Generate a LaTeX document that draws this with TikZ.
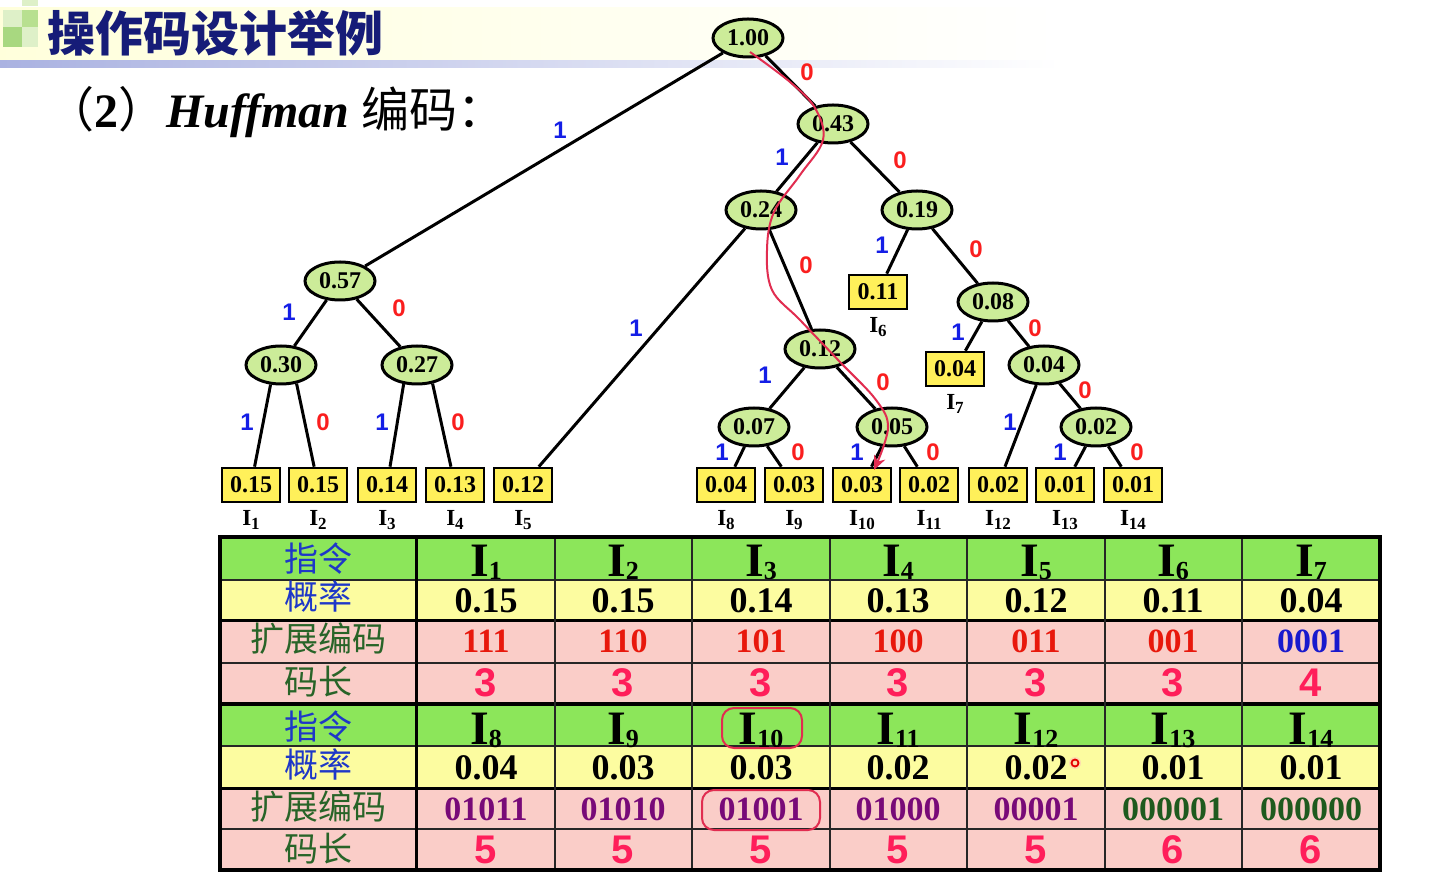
\documentclass[tikz,border=0pt]{standalone}
\usepackage{fontspec}
\setmainfont{Liberation Serif}
\newfontfamily\cjk{Noto Sans CJK SC}
\newfontfamily\sansf{Liberation Sans}
\usetikzlibrary{calc,arrows.meta,shapes.geometric}
\definecolor{nodegreen}{RGB}{204,236,153}
\definecolor{leafyellow}{RGB}{255,240,90}
\definecolor{bitblue}{RGB}{20,30,230}
\definecolor{bitred}{RGB}{250,30,30}
\definecolor{navy}{RGB}{22,28,120}
\definecolor{hdrgreen}{RGB}{140,230,90}
\definecolor{probyellow}{RGB}{252,252,160}
\definecolor{codepink}{RGB}{250,205,200}
\definecolor{lblblue}{RGB}{30,55,200}
\definecolor{lblgreen}{RGB}{40,100,40}
\definecolor{codered}{RGB}{232,24,12}
\definecolor{codeblue}{RGB}{25,25,205}
\definecolor{codepurple}{RGB}{120,10,120}
\definecolor{codegreen}{RGB}{30,90,30}
\definecolor{lenred}{RGB}{255,30,90}
\definecolor{hlred}{RGB}{225,45,80}
\definecolor{sqA}{RGB}{222,240,200}
\definecolor{sqB}{RGB}{184,224,144}
\definecolor{sqC}{RGB}{168,216,128}
\definecolor{lineblue}{RGB}{170,178,225}
\newcommand\tI[1]{I\raisebox{-2pt}{\fontsize{8.5}{8.5}\selectfont #1}}
\newcommand\hI[1]{I\raisebox{-1.5pt}{\fontsize{13}{13}\selectfont #1}}
\tikzset{
  x=0.5pt, y=-0.5pt,
  inode/.style={ellipse, draw, line width=1.5pt, fill=nodegreen, minimum width=35pt, minimum height=19pt, inner sep=0pt, font=\bfseries\fontsize{12}{12}\selectfont},
  leaf/.style={rectangle, draw, line width=1.3pt, fill=leafyellow, minimum width=29pt, minimum height=17pt, inner sep=0pt, font=\bfseries\fontsize{12}{12}\selectfont},
  tedge/.style={line width=1.5pt},
  one/.style={text=bitblue, inner sep=0pt, font=\sansf\bfseries\fontsize{12}{12}\selectfont},
  zero/.style={text=bitred, inner sep=0pt, font=\sansf\bfseries\fontsize{12}{12}\selectfont},
  ilab/.style={anchor=base, inner sep=0pt, font=\bfseries\fontsize{11.5}{11.5}\selectfont},
  thin/.style={line width=0.8pt, draw=black!85},
  thick/.style={line width=1.5pt, draw=black},
  hcell/.style={anchor=base, inner sep=0pt, font=\bfseries\fontsize{24}{24}\selectfont},
  pcell/.style={anchor=base, inner sep=0pt, font=\bfseries\fontsize{18}{18}\selectfont},
  ccell/.style={anchor=base, inner sep=0pt, font=\bfseries\fontsize{17}{17}\selectfont},
  lcell/.style={anchor=base, inner sep=0pt, text=lenred, font=\sansf\bfseries\fontsize{20}{20}\selectfont},
  rowlbl/.style={anchor=base, inner sep=0pt, font=\cjk\fontsize{17}{17}\selectfont},
  hl/.style={draw=hlred, line width=1pt, rounded corners=6pt},
}
\begin{document}
\begin{tikzpicture}
\useasboundingbox (0,0) rectangle (1450,886);
\fill[white] (0,0) rectangle (1450,886);
% title decoration
\shade[left color=yellow!14!white, right color=white] (0,8) rectangle (1060,62);
\shade[left color=lineblue, right color=white] (0,61) rectangle (1060,68);
\fill[sqA] (22,0) rectangle (38,6);
\fill[sqA] (3,10) rectangle (22,27);
\fill[sqB] (22,10) rectangle (38,27);
\fill[sqC] (3,27) rectangle (22,47);
\fill[sqA] (22,27) rectangle (38,47);
\node[anchor=base west, inner sep=0pt, text=navy, font=\cjk\bfseries\fontsize{24}{24}\selectfont] (title) at (47,52) {操作码设计举例};
\node[anchor=base west, inner sep=0pt, font=\fontsize{24}{24}\selectfont] (sub) at (46,128)
  {{\cjk （}{\bfseries 2}{\cjk ）}{\bfseries\itshape Huffman} {\cjk 编码：}};

% internal nodes
\node[inode] (n100) at (748,38) {1.00};
\node[inode] (n043) at (833,124) {0.43};
\node[inode] (n024) at (761,210) {0.24};
\node[inode] (n019) at (917,210) {0.19};
\node[inode] (n057) at (340,281) {0.57};
\node[inode] (n030) at (281,365) {0.30};
\node[inode] (n027) at (417,365) {0.27};
\node[inode] (n012) at (820,349) {0.12};
\node[inode] (n008) at (993,302) {0.08};
\node[inode] (n004) at (1044,365) {0.04};
\node[inode] (n007) at (754,427) {0.07};
\node[inode] (n005) at (892,427) {0.05};
\node[inode] (n002) at (1096,427) {0.02};
% leaves
\foreach \nm/\x/\y/\v/\s in {l1/251/485/0.15/1, l2/318/485/0.15/2, l3/387/485/0.14/3, l4/455/485/0.13/4, l5/523/485/0.12/5, l6/878/292/0.11/6, l7/955/369/0.04/7, l8/726/485/0.04/8, l9/794/485/0.03/9, l10/862/485/0.03/10, l11/929/485/0.02/11, l12/998/485/0.02/12, l13/1065/485/0.01/13, l14/1133/485/0.01/14}{
  \node[leaf] (\nm) at (\x,\y) {\v};
  \node[ilab] (\nm lab) at ($(\nm)+(0,41)$) {\tI{\s}};
}
% edges
\draw[tedge] (n100) -- (n057);
\draw[tedge] (n100) -- (n043);
\draw[tedge] (n043) -- (n024);
\draw[tedge] (n043) -- (n019);
\draw[tedge] (n057) -- (n030);
\draw[tedge] (n057) -- (n027);
\draw[tedge] (n030.-118) -- (l1);
\draw[tedge] (n030.-50) -- (l2);
\draw[tedge] (n027.-125) -- (l3);
\draw[tedge] (n027.-50) -- (l4);
\draw[tedge] (n024) -- (l5);
\draw[tedge] (n024) -- (n012);
\draw[tedge] (n019) -- (l6);
\draw[tedge] (n019) -- (n008);
\draw[tedge] (n008) -- (l7);
\draw[tedge] (n008) -- (n004);
\draw[tedge] (n012) -- (n007);
\draw[tedge] (n012) -- (n005);
\draw[tedge] (n007) -- (l8);
\draw[tedge] (n007) -- (l9);
\draw[tedge] (n005) -- (l10);
\draw[tedge] (n005) -- (l11);
\draw[tedge] (n004) -- (l12);
\draw[tedge] (n004) -- (n002);
\draw[tedge] (n002) -- (l13);
\draw[tedge] (n002) -- (l14);
% edge labels
\node[one] (b1) at (560,130) {1};
\node[zero] (b2) at (807,72) {0};
\node[one] (b3) at (782,157) {1};
\node[zero] (b4) at (900,160) {0};
\node[one] (b5) at (636,328) {1};
\node[zero] (b6) at (806,265) {0};
\node[one] (b7) at (882,245) {1};
\node[zero] (b8) at (976,249) {0};
\node[one] (b9) at (289,312) {1};
\node[zero] (b10) at (399,308) {0};
\node[one] (b11) at (247,422) {1};
\node[zero] (b12) at (323,422) {0};
\node[one] (b13) at (382,422) {1};
\node[zero] (b14) at (458,422) {0};
\node[one] (b15) at (958,332) {1};
\node[zero] (b16) at (1035,328) {0};
\node[one] (b17) at (765,375) {1};
\node[zero] (b18) at (883,382) {0};
\node[one] (b19) at (1010,422) {1};
\node[zero] (b20) at (1085,390) {0};
\node[one] (b21) at (722,452) {1};
\node[zero] (b22) at (798,452) {0};
\node[one] (b23) at (857,452) {1};
\node[zero] (b24) at (933,452) {0};
\node[one] (b25) at (1060,452) {1};
\node[zero] (b26) at (1137,452) {0};
% red path
\draw[hlred, line width=1pt, -{Stealth[length=7pt,width=6pt]}] plot[smooth, tension=0.6] coordinates {(750,52) (790,82) (815,108) (823,140) (800,175) (774,212) (767,250) (772,290) (800,320) (840,362) (876,400) (888,428) (874,470)};

% table fills
\fill[hdrgreen] (220,537) rectangle (1380,580);
\fill[probyellow] (220,580) rectangle (1380,621);
\fill[codepink] (220,621) rectangle (1380,704);
\fill[hdrgreen] (220,704) rectangle (1380,746);
\fill[probyellow] (220,746) rectangle (1380,788);
\fill[codepink] (220,788) rectangle (1380,870);
% table lines
\foreach \yy in {580,663,746,829}{\draw[thin] (220,\yy) -- (1380,\yy);}
\foreach \yy in {621,788}{\draw[thick] (220,\yy) -- (1380,\yy);}
\draw[line width=2pt] (220,704) -- (1380,704);
\foreach \xx in {555,692,830,967,1105,1242}{\draw[thin] (\xx,537) -- (\xx,870);}
\draw[thick] (416,537) -- (416,870);
\draw[line width=2pt] (220,537) rectangle (1380,870);
% row labels
\foreach \t/\yb/\c/\k in {0/572/lblblue/指令, 0/610/lblblue/概率, 0/652/lblgreen/扩展编码, 0/694/lblgreen/码长, 1/739/lblblue/指令, 1/777/lblblue/概率, 1/819/lblgreen/扩展编码, 1/861/lblgreen/码长}{
  \node[rowlbl, text=\c] (rl\t\yb) at (318,\yb) {\k};
}
% top half
\foreach \x/\n/\p/\cd/\cc/\l in {486/1/0.15/111/codered/3, 623/2/0.15/110/codered/3, 761/3/0.14/101/codered/3, 898/4/0.13/100/codered/3, 1036/5/0.12/011/codered/3, 1173/6/0.11/001/codered/3, 1311/7/0.04/0001/codeblue/4}{
  \node[hcell] (th\n) at (\x,577) {\hI{\n}};
  \node[pcell] (tp\n) at (\x,613) {\p};
  \node[ccell, text=\cc] (tc\n) at (\x,653) {\cd};
  \node[lcell] (tl\n) at (\x,697) {\l};
}
% bottom half
\foreach \x/\n/\p/\cd/\cc/\l in {486/8/0.04/01011/codepurple/5, 623/9/0.03/01010/codepurple/5, 761/10/0.03/01001/codepurple/5, 898/11/0.02/01000/codepurple/5, 1036/12/0.02/00001/codepurple/5, 1173/13/0.01/000001/codegreen/6, 1311/14/0.01/000000/codegreen/6}{
  \node[hcell] (th\n) at (\x,744) {\hI{\n}};
  \node[pcell] (tp\n) at (\x,779) {\p};
  \node[ccell, text=\cc] (tc\n) at (\x,820) {\cd};
  \node[lcell] (tl\n) at (\x,863) {\l};
}
% highlights
\draw[hl] (722,708) rectangle (802,748);
\draw[hl] (702,790) rectangle (820,830);
\fill[red!25, opacity=0.5] (1075,763) circle (6);
\draw[red!90!black, line width=0.9pt] (1075,763) circle (3.5);
\end{tikzpicture}
\end{document}
